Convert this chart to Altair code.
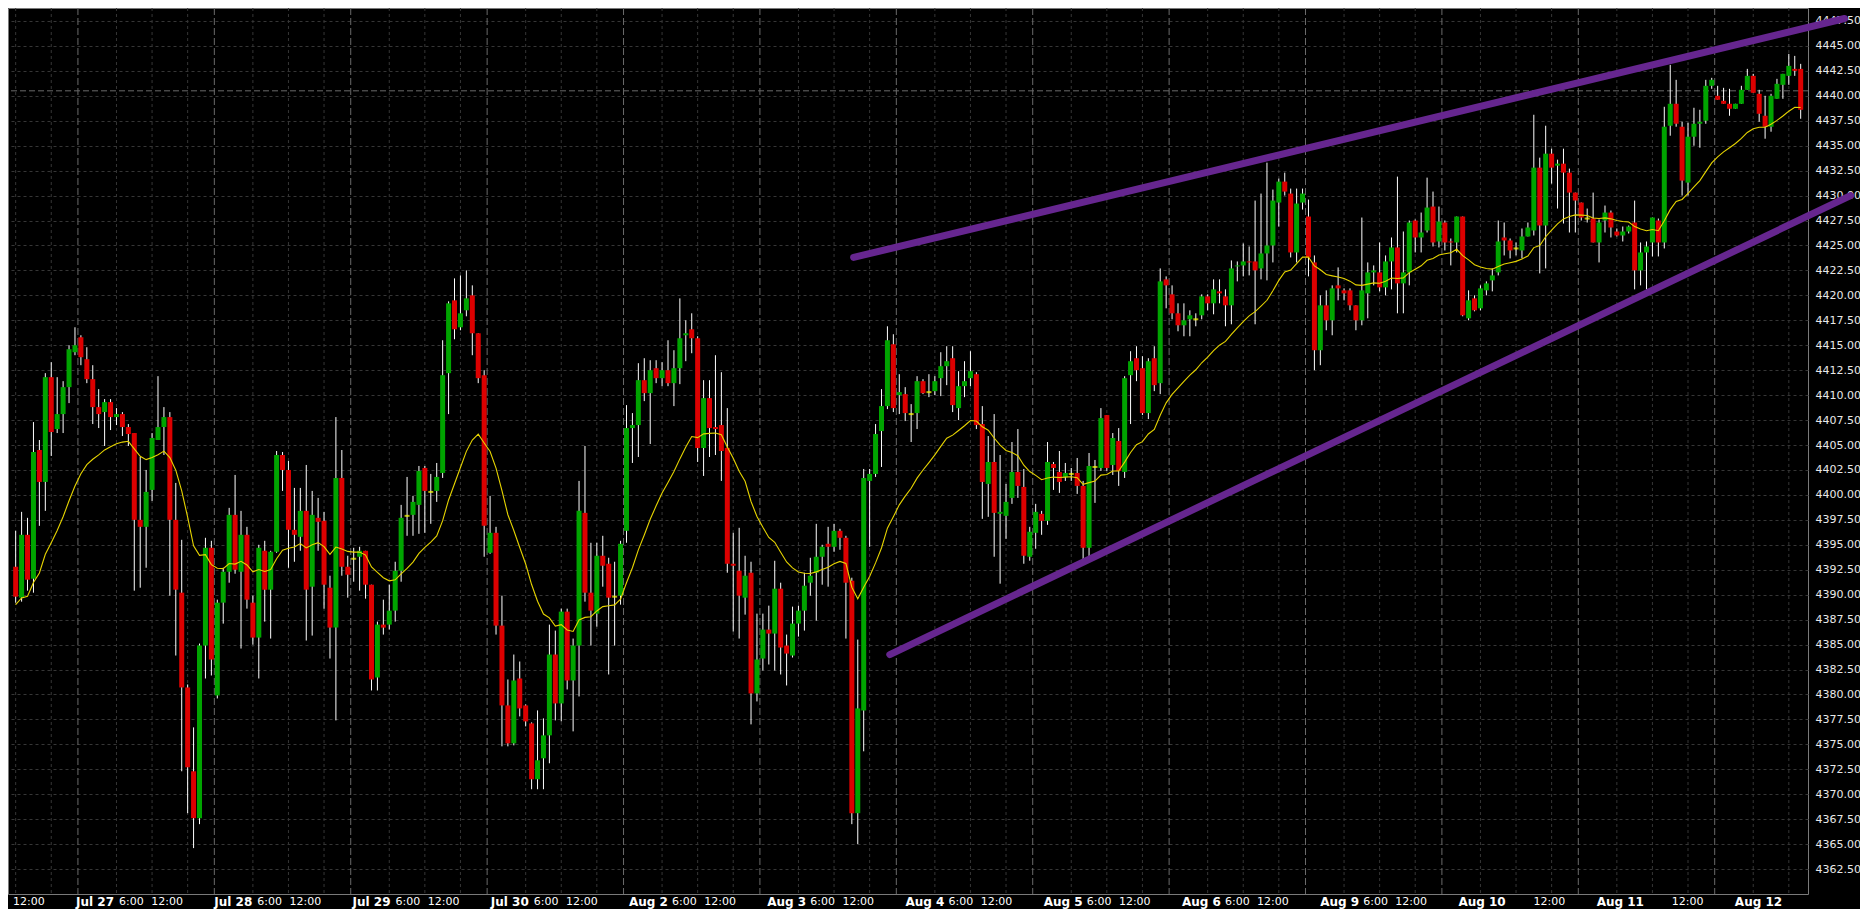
import altair as alt
import pandas as pd

# ---------------- data (hourly candles) ----------------
open_ = [
4392.8, 4389.7, 4396.0, 4391.6, 4404.5, 4401.3, 4411.8, 4406.6, 4408.1, 4410.8,
4414.3, 4415.8, 4413.6, 4411.6, 4408.8, 4408.3, 4409.3, 4407.8, 4408.1, 4406.8,
4406.2, 4397.5, 4396.8, 4400.5, 4405.5, 4406.8, 4407.8, 4397.5, 4390.2, 4380.7,
4372.3, 4367.6, 4384.9, 4394.7, 4379.9, 4389.2, 4392.3, 4398.0, 4392.3, 4396.0,
4389.2, 4385.7, 4394.4, 4390.5, 4394.3, 4404.0, 4402.5, 4396.5, 4395.8, 4398.4,
4390.8, 4397.7, 4397.4, 4390.7, 4386.7, 4401.7, 4392.8, 4393.6, 4393.8, 4394.4,
4391.0, 4381.7, 4387.0, 4387.0, 4388.4, 4392.4, 4397.9, 4398.0, 4399.0, 4402.7,
4400.3, 4400.4, 4402.2, 4412.2, 4419.5, 4416.8, 4418.5, 4420.0, 4416.2, 4412.0,
4394.2, 4396.2, 4386.9, 4378.9, 4375.1, 4381.6, 4378.9, 4377.1, 4371.5, 4373.6,
4375.9, 4384.0, 4379.1, 4388.3, 4381.4, 4384.9, 4398.2, 4390.2, 4388.1, 4393.9,
4393.1, 4389.8, 4389.9, 4396.4, 4406.7, 4407.0, 4411.5, 4410.2, 4412.7, 4411.7,
4412.5, 4411.2, 4412.7, 4416.0, 4416.6, 4415.7, 4404.7, 4409.7, 4406.8, 4407.0,
4404.7, 4393.1, 4392.4, 4389.7, 4392.2, 4380.1, 4383.6, 4386.5, 4386.1, 4390.6,
4384.9, 4383.9, 4387.1, 4388.4, 4391.2, 4392.2, 4393.8, 4395.1, 4394.8, 4396.4,
4395.7, 4391.4, 4368.1, 4378.4, 4401.4, 4402.1, 4406.4, 4408.9, 4415.1, 4410.0,
4410.1, 4408.1, 4408.2, 4411.4, 4410.3, 4410.4, 4411.7, 4412.9, 4413.7, 4408.7,
4410.9, 4411.7, 4412.1, 4407.1, 4401.1, 4403.3, 4398.1, 4397.9, 4399.7, 4402.3,
4400.8, 4393.8, 4396.2, 4398.1, 4397.4, 4403.1, 4402.3, 4401.8, 4402.1, 4402.2,
4400.9, 4394.7, 4402.8, 4402.7, 4408.0, 4403.0, 4405.4, 4402.3, 4412.0, 4413.7,
4412.7, 4408.2, 4413.7, 4411.2, 4421.6, 4420.1, 4418.2, 4417.0, 4417.6, 4417.6,
4418.0, 4419.9, 4419.2, 4420.4, 4419.9, 4419.0, 4422.9, 4423.0, 4423.4, 4423.4,
4422.7, 4424.2, 4425.0, 4429.3, 4431.4, 4430.2, 4424.3, 4429.3, 4427.9, 4423.3,
4414.5, 4419.0, 4417.5, 4421.0, 4420.5, 4420.5, 4419.0, 4417.5, 4420.2, 4422.3,
4422.3, 4420.8, 4423.4, 4424.8, 4421.2, 4422.3, 4427.5, 4425.8, 4426.5, 4428.9,
4425.4, 4427.3, 4425.4, 4425.3, 4427.9, 4417.7, 4419.7, 4418.7, 4420.5, 4421.5,
4422.3, 4425.8, 4425.5, 4424.7, 4424.5, 4425.9, 4426.5, 4432.8, 4427.0, 4434.2,
4433.0, 4433.2, 4432.3, 4430.3, 4429.3, 4427.7, 4427.7, 4425.3, 4427.5, 4428.3,
4426.4, 4426.0, 4426.4, 4427.3, 4422.5, 4424.3, 4425.3, 4427.5, 4425.3, 4437.0,
4439.2, 4436.9, 4431.3, 4435.9, 4437.2, 4437.5, 4441.0, 4440.0, 4439.5, 4439.2,
4438.7, 4439.2, 4440.6, 4442.0, 4440.2, 4438.0, 4436.9, 4439.7, 4441.1, 4442.0,
4442.7, 4442.7]

high = [
4396.4, 4398.3, 4397.7, 4407.3, 4405.5, 4412.2, 4413.3, 4411.8, 4411.4, 4415.0,
4416.8, 4416.0, 4414.8, 4413.0, 4410.6, 4409.6, 4409.6, 4408.7, 4408.3, 4407.1,
4406.2, 4403.8, 4402.5, 4406.2, 4411.9, 4408.8, 4408.3, 4401.2, 4395.5, 4381.0,
4376.7, 4385.1, 4395.7, 4395.4, 4389.5, 4392.7, 4398.7, 4402.0, 4398.4, 4396.8,
4389.9, 4395.0, 4395.4, 4394.4, 4404.4, 4404.3, 4403.4, 4400.7, 4400.7, 4403.0,
4400.4, 4399.7, 4398.3, 4391.9, 4407.8, 4404.5, 4393.9, 4394.7, 4394.8, 4394.4,
4391.0, 4387.3, 4389.5, 4391.0, 4393.3, 4399.0, 4401.8, 4399.9, 4402.9, 4402.9,
4402.1, 4403.2, 4415.5, 4419.4, 4421.7, 4422.0, 4422.5, 4421.0, 4416.2, 4412.5,
4399.9, 4396.8, 4389.9, 4381.5, 4384.0, 4383.3, 4379.0, 4377.2, 4378.4, 4377.6,
4387.0, 4386.4, 4388.6, 4388.6, 4385.6, 4401.4, 4404.9, 4395.2, 4395.2, 4395.9,
4393.7, 4393.3, 4395.4, 4409.0, 4408.2, 4413.2, 4413.7, 4413.5, 4413.5, 4413.3,
4415.5, 4414.5, 4419.7, 4417.5, 4418.2, 4415.9, 4411.5, 4411.5, 4414.0, 4412.3,
4408.7, 4396.2, 4396.7, 4393.9, 4393.3, 4388.1, 4388.1, 4388.9, 4393.4, 4391.2,
4386.0, 4388.8, 4388.9, 4392.2, 4393.7, 4397.1, 4395.0, 4396.8, 4397.1, 4396.6,
4395.9, 4391.7, 4385.5, 4402.6, 4402.6, 4407.1, 4410.6, 4416.9, 4416.1, 4412.1,
4410.8, 4409.1, 4411.9, 4411.6, 4412.1, 4411.9, 4414.3, 4414.9, 4414.9, 4412.4,
4413.4, 4414.4, 4412.3, 4408.9, 4405.9, 4408.1, 4404.0, 4401.1, 4405.3, 4406.6,
4402.6, 4396.8, 4399.1, 4398.4, 4405.3, 4403.3, 4404.4, 4403.2, 4402.7, 4403.7,
4401.4, 4404.2, 4403.5, 4408.7, 4408.0, 4406.2, 4406.7, 4411.9, 4414.4, 4414.9,
4413.9, 4413.7, 4414.9, 4422.7, 4421.9, 4421.0, 4419.2, 4419.2, 4418.5, 4418.2,
4420.1, 4420.1, 4421.6, 4421.6, 4420.6, 4423.5, 4423.4, 4425.2, 4424.9, 4429.5,
4430.2, 4433.3, 4430.6, 4431.7, 4432.3, 4430.7, 4430.7, 4430.7, 4429.6, 4424.0,
4420.0, 4420.5, 4421.0, 4422.8, 4420.7, 4420.7, 4419.0, 4427.8, 4423.3, 4423.0,
4425.3, 4424.0, 4425.8, 4431.9, 4426.4, 4427.5, 4427.6, 4428.3, 4431.8, 4430.4,
4428.9, 4427.5, 4425.7, 4427.9, 4427.9, 4420.5, 4420.0, 4421.0, 4421.4, 4422.7,
4427.5, 4427.3, 4425.7, 4425.3, 4426.7, 4427.3, 4438.1, 4433.8, 4437.0, 4434.7,
4433.6, 4434.7, 4432.7, 4430.3, 4429.3, 4428.7, 4430.3, 4427.6, 4429.0, 4428.5,
4426.7, 4426.9, 4427.0, 4429.5, 4425.3, 4425.4, 4427.8, 4427.7, 4438.9, 4443.1,
4441.6, 4437.4, 4437.3, 4438.8, 4438.6, 4441.6, 4441.8, 4441.0, 4440.8, 4440.7,
4439.2, 4441.0, 4442.7, 4442.2, 4440.6, 4440.0, 4440.2, 4441.7, 4442.2, 4444.2,
4444.0, 4443.2]

low = [
4389.2, 4389.3, 4390.4, 4390.2, 4396.9, 4398.4, 4403.9, 4406.2, 4406.2, 4409.2,
4414.0, 4413.0, 4411.2, 4407.1, 4406.7, 4404.9, 4406.5, 4407.0, 4405.9, 4404.9,
4390.4, 4390.7, 4392.7, 4399.4, 4405.5, 4404.0, 4389.9, 4383.9, 4372.3, 4368.1,
4364.6, 4367.0, 4381.6, 4381.9, 4379.6, 4387.1, 4391.2, 4392.1, 4384.6, 4388.6,
4385.0, 4381.6, 4387.3, 4385.6, 4394.2, 4400.4, 4392.7, 4393.3, 4394.4, 4385.4,
4385.9, 4394.4, 4388.6, 4383.6, 4377.4, 4391.9, 4389.7, 4391.3, 4390.4, 4389.6,
4380.4, 4380.4, 4386.0, 4386.5, 4387.3, 4391.3, 4395.9, 4395.9, 4396.1, 4396.2,
4397.1, 4399.3, 4401.7, 4408.1, 4415.6, 4416.5, 4417.9, 4414.0, 4411.2, 4393.8,
4394.1, 4386.0, 4374.8, 4374.8, 4374.9, 4377.8, 4376.8, 4370.5, 4370.5, 4370.5,
4373.1, 4377.4, 4377.3, 4380.5, 4376.3, 4379.8, 4389.3, 4384.9, 4386.8, 4390.8,
4382.0, 4384.9, 4389.0, 4395.2, 4403.2, 4403.8, 4409.4, 4405.1, 4411.2, 4410.9,
4410.9, 4408.9, 4411.1, 4413.4, 4414.2, 4403.3, 4401.9, 4403.8, 4404.0, 4401.4,
4392.2, 4386.3, 4385.6, 4388.0, 4377.0, 4379.3, 4382.4, 4383.0, 4382.4, 4382.0,
4380.9, 4383.7, 4385.8, 4386.4, 4389.9, 4387.4, 4391.0, 4390.8, 4394.3, 4394.5,
4385.6, 4367.0, 4365.0, 4374.3, 4394.8, 4401.8, 4402.8, 4408.6, 4408.3, 4408.1,
4407.4, 4405.3, 4406.6, 4410.1, 4409.8, 4410.0, 4409.9, 4411.0, 4408.3, 4407.5,
4409.8, 4410.9, 4406.6, 4397.6, 4397.8, 4393.8, 4391.1, 4395.6, 4399.1, 4399.7,
4393.1, 4393.4, 4394.6, 4396.0, 4397.0, 4400.5, 4400.2, 4401.4, 4401.4, 4400.1,
4393.5, 4393.5, 4399.2, 4402.4, 4402.4, 4402.0, 4400.9, 4401.7, 4407.1, 4411.4,
4408.0, 4407.6, 4410.4, 4410.1, 4418.7, 4417.6, 4416.4, 4415.9, 4415.9, 4416.9,
4417.6, 4418.5, 4418.1, 4419.2, 4416.9, 4417.1, 4421.4, 4421.9, 4422.0, 4417.1,
4421.6, 4421.5, 4423.3, 4426.9, 4430.0, 4423.8, 4423.3, 4428.6, 4421.9, 4412.5,
4413.0, 4416.5, 4416.0, 4419.5, 4419.5, 4418.5, 4416.5, 4417.0, 4417.7, 4421.0,
4420.4, 4420.0, 4420.6, 4418.2, 4418.2, 4421.0, 4424.3, 4424.3, 4426.3, 4424.9,
4424.8, 4424.5, 4423.0, 4424.3, 4417.9, 4417.5, 4418.4, 4418.5, 4420.0, 4420.4,
4422.0, 4424.0, 4423.7, 4424.0, 4423.7, 4425.9, 4426.0, 4422.2, 4422.7, 4431.2,
4428.7, 4427.2, 4426.3, 4426.3, 4427.5, 4427.3, 4425.3, 4423.3, 4426.3, 4425.8,
4425.9, 4425.4, 4426.2, 4420.6, 4421.0, 4420.6, 4423.9, 4423.9, 4424.7, 4436.0,
4436.9, 4430.0, 4430.0, 4435.0, 4434.8, 4437.2, 4440.7, 4439.6, 4439.2, 4438.0,
4438.7, 4439.2, 4440.6, 4440.3, 4437.4, 4435.7, 4436.4, 4439.7, 4439.7, 4441.1,
4442.0, 4437.7]

close = [
4389.8, 4396.0, 4391.5, 4404.3, 4401.3, 4411.8, 4406.3, 4408.1, 4410.8, 4414.6,
4415.0, 4413.8, 4411.6, 4408.8, 4408.1, 4409.3, 4407.8, 4408.1, 4406.8, 4406.1,
4397.5, 4396.8, 4400.3, 4405.7, 4406.8, 4407.8, 4397.5, 4390.5, 4380.7, 4372.7,
4367.6, 4384.9, 4394.7, 4383.5, 4389.2, 4392.3, 4398.0, 4392.5, 4396.0, 4389.5,
4385.7, 4394.7, 4390.5, 4394.3, 4404.0, 4402.5, 4396.5, 4396.0, 4398.4, 4390.5,
4398.0, 4397.3, 4391.0, 4386.7, 4401.7, 4392.8, 4392.0, 4393.6, 4394.4, 4391.0,
4381.5, 4387.0, 4386.7, 4388.4, 4392.4, 4397.7, 4397.9, 4399.3, 4402.4, 4400.4,
4400.3, 4401.8, 4412.0, 4419.2, 4416.6, 4418.2, 4419.7, 4416.2, 4411.7, 4396.9,
4396.2, 4386.9, 4378.9, 4375.1, 4381.4, 4378.6, 4377.3, 4371.5, 4373.4, 4375.9,
4384.0, 4379.1, 4388.3, 4381.4, 4384.9, 4398.4, 4390.2, 4388.4, 4393.9, 4392.9,
4389.7, 4389.8, 4395.1, 4406.7, 4407.0, 4411.5, 4410.2, 4412.5, 4411.7, 4412.5,
4411.2, 4412.7, 4415.7, 4416.2, 4415.7, 4404.7, 4409.7, 4406.7, 4406.6, 4404.4,
4393.1, 4392.9, 4389.9, 4391.9, 4380.1, 4383.5, 4386.5, 4386.1, 4390.6, 4384.7,
4384.1, 4387.1, 4388.4, 4390.9, 4391.9, 4393.8, 4394.8, 4394.8, 4396.4, 4395.7,
4391.2, 4368.1, 4378.6, 4401.7, 4402.1, 4406.1, 4408.9, 4415.5, 4408.7, 4410.3,
4408.2, 4408.1, 4411.4, 4410.2, 4410.3, 4411.4, 4412.9, 4413.4, 4409.0, 4410.9,
4411.4, 4412.4, 4407.0, 4401.3, 4403.3, 4398.2, 4398.3, 4399.3, 4402.3, 4400.9,
4393.9, 4396.3, 4398.3, 4397.4, 4403.3, 4402.7, 4401.3, 4402.2, 4402.1, 4400.9,
4394.7, 4402.9, 4402.8, 4407.7, 4402.7, 4405.7, 4402.4, 4411.7, 4413.4, 4412.5,
4408.2, 4413.4, 4411.0, 4421.4, 4421.0, 4418.2, 4417.0, 4417.5, 4418.0, 4417.6,
4419.9, 4419.2, 4420.6, 4420.2, 4419.0, 4422.7, 4423.0, 4423.4, 4423.3, 4422.5,
4424.2, 4425.0, 4429.5, 4431.4, 4430.4, 4424.3, 4429.2, 4430.2, 4423.8, 4414.5,
4419.0, 4417.5, 4420.7, 4420.7, 4420.2, 4419.0, 4417.5, 4420.5, 4422.3, 4422.5,
4420.8, 4423.4, 4424.8, 4421.2, 4422.3, 4427.3, 4425.8, 4426.3, 4428.8, 4425.3,
4427.4, 4425.3, 4425.3, 4427.9, 4418.0, 4419.5, 4418.5, 4420.7, 4421.2, 4422.0,
4425.4, 4425.5, 4424.5, 4424.7, 4425.9, 4426.8, 4432.8, 4427.0, 4434.2, 4432.8,
4433.2, 4432.3, 4430.3, 4429.5, 4427.8, 4427.7, 4425.3, 4427.3, 4428.3, 4426.8,
4426.0, 4426.4, 4426.9, 4422.5, 4424.3, 4424.9, 4427.8, 4425.3, 4436.9, 4439.2,
4437.2, 4431.5, 4435.9, 4437.2, 4437.4, 4441.0, 4441.6, 4439.6, 4439.2, 4438.7,
4439.2, 4440.6, 4442.0, 4440.3, 4438.2, 4436.9, 4440.0, 4441.2, 4442.2, 4443.0,
4442.5, 4438.6]

# moving average: 20-period EMA of the closes, starting from the value read at the left edge
ma_start = 4389.0
ma_period = 20

# trading days (23 hourly bars each) and the first bar of each day
day_labels = ["Jul 27", "Jul 28", "Jul 29", "Jul 30", "Aug 2", "Aug 3", "Aug 4",
              "Aug 5", "Aug 6", "Aug 9", "Aug 10", "Aug 11", "Aug 12"]
day_first_bar = [11, 34, 57, 80, 103, 126, 149, 172, 195, 218, 241, 264, 287]

# time-axis hour labels: day index (0 = Jul 27, -1 = the partial day before) per label
six_label_days = [0, 1, 2, 3, 4, 5, 6, 7, 8, 9]                 # "6:00"
noon_label_days = [-1, 0, 1, 2, 3, 4, 5, 6, 7, 8, 9, 10, 11]     # "12:00"

# hand-drawn channel lines (bar index, price)
upper_bar = [141.3, 308.4]
upper_price = [4423.8, 4447.75]
lower_bar = [147.4, 309.4]
lower_price = [4384.0, 4430.0]

# horizontal price line
price_line = 4440.5

# ---------------- derived tables ----------------
n = len(close)
alpha = 2.0 / (ma_period + 1)
ema = [ma_start]
for c in close[1:]:
    ema.append(ema[-1] + alpha * (c - ema[-1]))

kinds = ["up" if c > o else ("down" if c < o else "doji") for o, c in zip(open_, close)]
df = pd.DataFrame({"bar": list(range(n)), "open": open_, "high": high, "low": low,
                   "close": close, "kind": kinds, "ema": ema})

W, H = 1800, 886
x_dom = [-0.45, 301.39]
y_dom = [4360.0, 4448.8]
xs = alt.Scale(domain=x_dom, nice=False, zero=False)
ys = alt.Scale(domain=y_dom, nice=False, zero=False)

tick_vals = [4362.5 + 2.5 * i for i in range(35)]
yaxis = alt.Axis(orient="right", values=tick_vals, format=".2f", title=None,
                 grid=True, gridColor="#363636", gridDash=[3, 3], gridWidth=1,
                 ticks=False, domain=False, labelColor="#e8e8e8",
                 labelFont="DejaVu Sans", labelFontSize=11, labelPadding=7,
                 labelOverlap=False, labelBound=False, labelFlush=False)

def X(field):
    return alt.X(field, type="quantitative", scale=xs, axis=None)

def Y(field):
    return alt.Y(field, type="quantitative", scale=ys, axis=yaxis)

minor_pos = []
for f in [day_first_bar[0] - 23] + day_first_bar:
    for h in (6, 12, 18):
        p = f + h
        if x_dom[0] <= p <= x_dom[1]:
            minor_pos.append(p)
minor_df = pd.DataFrame({"pos": minor_pos})
sep_df = pd.DataFrame({"pos": [f - 0.5 for f in day_first_bar]})

# the platform's time-label ruler advances slightly faster than the bar grid
label_day_span = 23.31
date_df = pd.DataFrame({"pos": [10.18 + label_day_span * d for d in range(len(day_labels))],
                        "label": day_labels})
hour_df = pd.DataFrame({
    "pos": [17.44 + label_day_span * d for d in six_label_days]
           + [-0.45 + label_day_span * (d + 1) for d in noon_label_days],
    "label": ["6:00"] * len(six_label_days) + ["12:00"] * len(noon_label_days)})

upper_df = pd.DataFrame({"bar": upper_bar, "price": upper_price})
lower_df = pd.DataFrame({"bar": lower_bar, "price": lower_price})

# ---------------- layers ----------------
minor = alt.Chart(minor_df).mark_rule(color="#363636", strokeDash=[3, 3], strokeWidth=1).encode(
    x=X("pos"))
seps = alt.Chart(sep_df).mark_rule(color="#6a6a6a", strokeDash=[7, 3], strokeWidth=1).encode(
    x=X("pos"))
pline = alt.Chart(pd.DataFrame({"p": [price_line]})).mark_rule(
    color="#6a6a6a", strokeDash=[6, 3], strokeWidth=1).encode(y=Y("p"))

base = alt.Chart(df)
wicks = base.mark_rule(color="#ffffff", strokeWidth=1).encode(
    x=X("bar"), y=Y("low"), y2="high")
bodies = base.transform_filter("datum.kind != 'doji'").mark_bar(size=5).encode(
    x=X("bar"), y=Y("open"), y2="close",
    color=alt.Color("kind:N", scale=alt.Scale(domain=["up", "down"],
                                              range=["#00a400", "#dc0000"]), legend=None))
dojis = base.transform_filter("datum.kind == 'doji'").mark_tick(
    orient="horizontal", size=5, thickness=2, color="#ffff00").encode(
    x=X("bar"), y=Y("open"))
ma_line = base.mark_line(color="#e6d400", strokeWidth=1.1).encode(x=X("bar"), y=Y("ema"))

chan_up = alt.Chart(upper_df).mark_line(color="#66268f", strokeWidth=7, strokeCap="round").encode(
    x=X("bar"), y=Y("price"))
chan_lo = alt.Chart(lower_df).mark_line(color="#66268f", strokeWidth=7, strokeCap="round").encode(
    x=X("bar"), y=Y("price"))

date_txt = alt.Chart(date_df).mark_text(
    align="left", baseline="middle", font="DejaVu Sans", fontSize=12,
    fontWeight="bold", color="#ffffff").encode(x=X("pos"), y=alt.value(H + 8), text="label:N")
hour_txt = alt.Chart(hour_df).mark_text(
    align="left", baseline="middle", font="DejaVu Sans", fontSize=11,
    color="#ffffff").encode(x=X("pos"), y=alt.value(H + 8), text="label:N")

chart = alt.layer(
    minor, seps, pline, wicks, bodies, dojis, ma_line, chan_up, chan_lo, date_txt, hour_txt
).properties(
    width=W, height=H,
    autosize=alt.AutoSizeParams(type="none"),
    padding={"left": 0, "top": 0, "right": 52, "bottom": 15},
    background="#000000",
).configure_view(stroke="#7a7a7a", strokeWidth=1)

chart.save("out.html", embed_options={"renderer": "svg", "actions": False})
